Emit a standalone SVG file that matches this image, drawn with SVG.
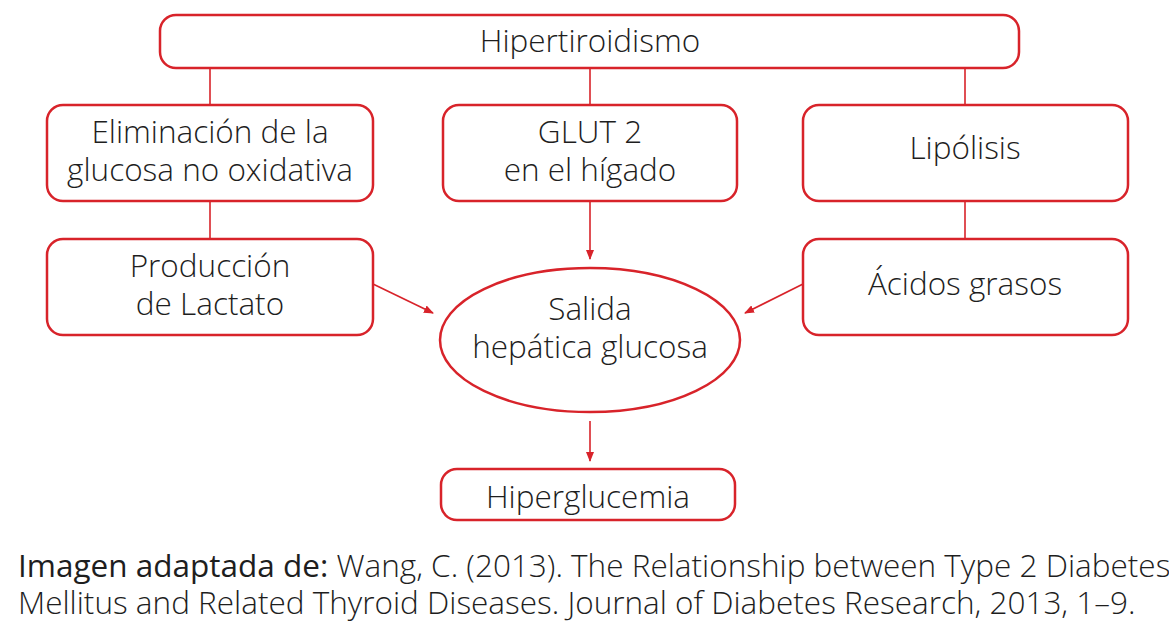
<svg xmlns="http://www.w3.org/2000/svg" width="1169" height="634" viewBox="0 0 1169 634">
<defs>
<style>
.box{fill:#fff;stroke:#d8232a;stroke-width:2.5}
.ln{stroke:#d8232a;stroke-width:1.6;fill:none}
.t{font-family:"Open Sans","Liberation Sans",sans-serif;font-weight:300;font-size:31.5px;fill:#1e1e1e;text-anchor:middle}
.c{font-family:"Open Sans","Liberation Sans",sans-serif;font-weight:300;font-size:31.5px;fill:#1e1e1e}
</style>
<marker id="ah" markerWidth="10" markerHeight="8" refX="9" refY="4" orient="auto" markerUnits="userSpaceOnUse">
<path d="M0,0 L10,4 L0,8 Z" fill="#d8232a"/>
</marker>
</defs>
<rect width="1169" height="634" fill="#fff"/>
<g id="connectors">
<line class="ln" x1="210" y1="68" x2="210" y2="105"/>
<line class="ln" x1="590" y1="68" x2="590" y2="105"/>
<line class="ln" x1="965" y1="68" x2="965" y2="105"/>
<line class="ln" x1="210" y1="201" x2="210" y2="239"/>
<line class="ln" x1="965" y1="201" x2="965" y2="239"/>
<line class="ln" x1="590" y1="201" x2="590" y2="259" marker-end="url(#ah)"/>
<line class="ln" x1="373" y1="284" x2="433" y2="313" marker-end="url(#ah)"/>
<line class="ln" x1="803" y1="284" x2="745" y2="313" marker-end="url(#ah)"/>
<line class="ln" x1="590" y1="421" x2="590" y2="461" marker-end="url(#ah)"/>
</g>
<g id="hipertiroidismo">
<rect class="box" x="160" y="15" width="859" height="53" rx="16"/>
<text class="t" x="590" y="52">Hipertiroidismo</text>
</g>
<g id="eliminacion">
<rect class="box" x="47" y="105" width="326" height="96" rx="16"/>
<text class="t" x="210" y="143">Eliminación de la</text>
<text class="t" x="210" y="181">glucosa no oxidativa</text>
</g>
<g id="glut2">
<rect class="box" x="443" y="105" width="294" height="96" rx="16"/>
<text class="t" x="590" y="143">GLUT 2</text>
<text class="t" x="590" y="181">en el hígado</text>
</g>
<g id="lipolisis">
<rect class="box" x="803" y="105" width="325" height="96" rx="16"/>
<text class="t" x="965" y="159">Lipólisis</text>
</g>
<g id="lactato">
<rect class="box" x="47" y="239" width="326" height="96" rx="16"/>
<text class="t" x="210" y="277">Producción</text>
<text class="t" x="210" y="315">de Lactato</text>
</g>
<g id="acidos">
<rect class="box" x="803" y="239" width="325" height="96" rx="16"/>
<text class="t" x="965" y="295">Ácidos grasos</text>
</g>
<g id="salida">
<ellipse class="box" cx="590" cy="340" rx="150" ry="72"/>
<text class="t" x="590" y="320">Salida</text>
<text class="t" x="590" y="358">hepática glucosa</text>
</g>
<g id="hiperglucemia">
<rect class="box" x="441" y="469" width="294" height="51" rx="16"/>
<text class="t" x="588" y="508">Hiperglucemia</text>
</g>
<g id="caption">
<text class="c" x="18" y="577"><tspan font-weight="400">Imagen adaptada de:</tspan> Wang, C. (2013). The Relationship between Type 2 Diabetes</text>
<text class="c" x="18" y="614">Mellitus and Related Thyroid Diseases. Journal of Diabetes Research, 2013, 1–9.</text>
</g>
</svg>
